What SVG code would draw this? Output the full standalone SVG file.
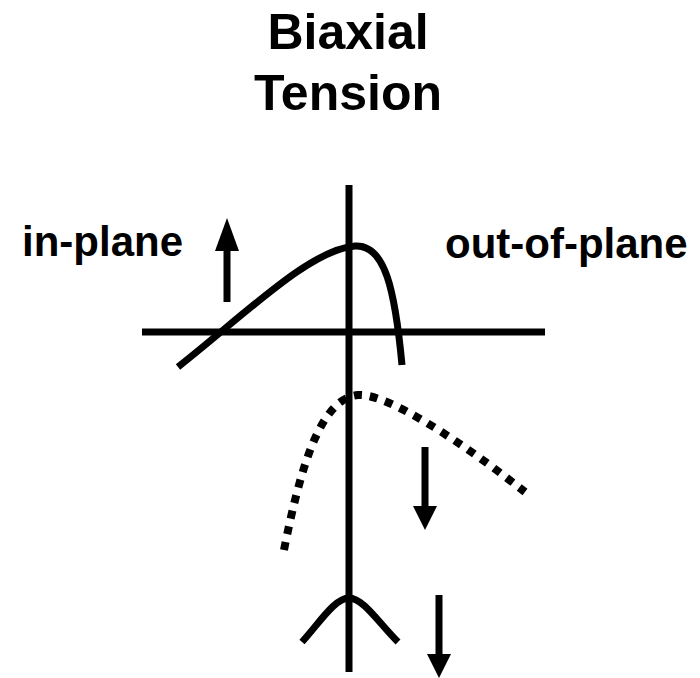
<svg xmlns="http://www.w3.org/2000/svg" width="700" height="678" viewBox="0 0 700 678">
<style>
.t{font-family:"Liberation Sans",Arial,sans-serif;font-weight:bold;fill:#000}
.ln{fill:none;stroke:#000;stroke-width:7}
.dot{fill:none;stroke:#000;stroke-width:8;stroke-dasharray:8 8}
.ah{fill:#000}
</style>
<rect width="700" height="678" fill="#fff"/>
<g id="title">
<text class="t" x="348" y="49" font-size="50" text-anchor="middle">Biaxial</text>
<text class="t" x="348" y="110" font-size="50" text-anchor="middle">Tension</text>
</g>
<g id="label-in-plane"><text class="t" x="22" y="256" font-size="42">in-plane</text></g>
<g id="label-out-of-plane"><text class="t" x="445" y="258" font-size="42">out-of-plane</text></g>
<g id="axes">
<line class="ln" x1="349" y1="185" x2="349" y2="672"/>
<line class="ln" x1="142" y1="332" x2="545" y2="332"/>
</g>
<g id="curve-solid"><path class="ln" d="M178,367 C250,310 310,250 355,246 C385,244 395,290 402,365"/></g>
<g id="curve-dotted"><path class="dot" d="M284,550 C300,470 320,398 358,395 C380,393 440,425 525,492"/></g>
<g id="curve-caret"><path class="ln" d="M302,642 C320,622 335,598 349,598 C363,598 378,622 398,642"/></g>
<g id="arrows">
<line class="ln" x1="227" y1="302" x2="227" y2="248"/>
<polygon class="ah" points="215,251 239,251 227,218"/>
<line class="ln" x1="425" y1="447" x2="425" y2="509"/>
<polygon class="ah" points="413,506 437,506 425,530"/>
<line class="ln" x1="439" y1="595" x2="439" y2="657"/>
<polygon class="ah" points="427,654 451,654 439,678"/>
</g>
</svg>
